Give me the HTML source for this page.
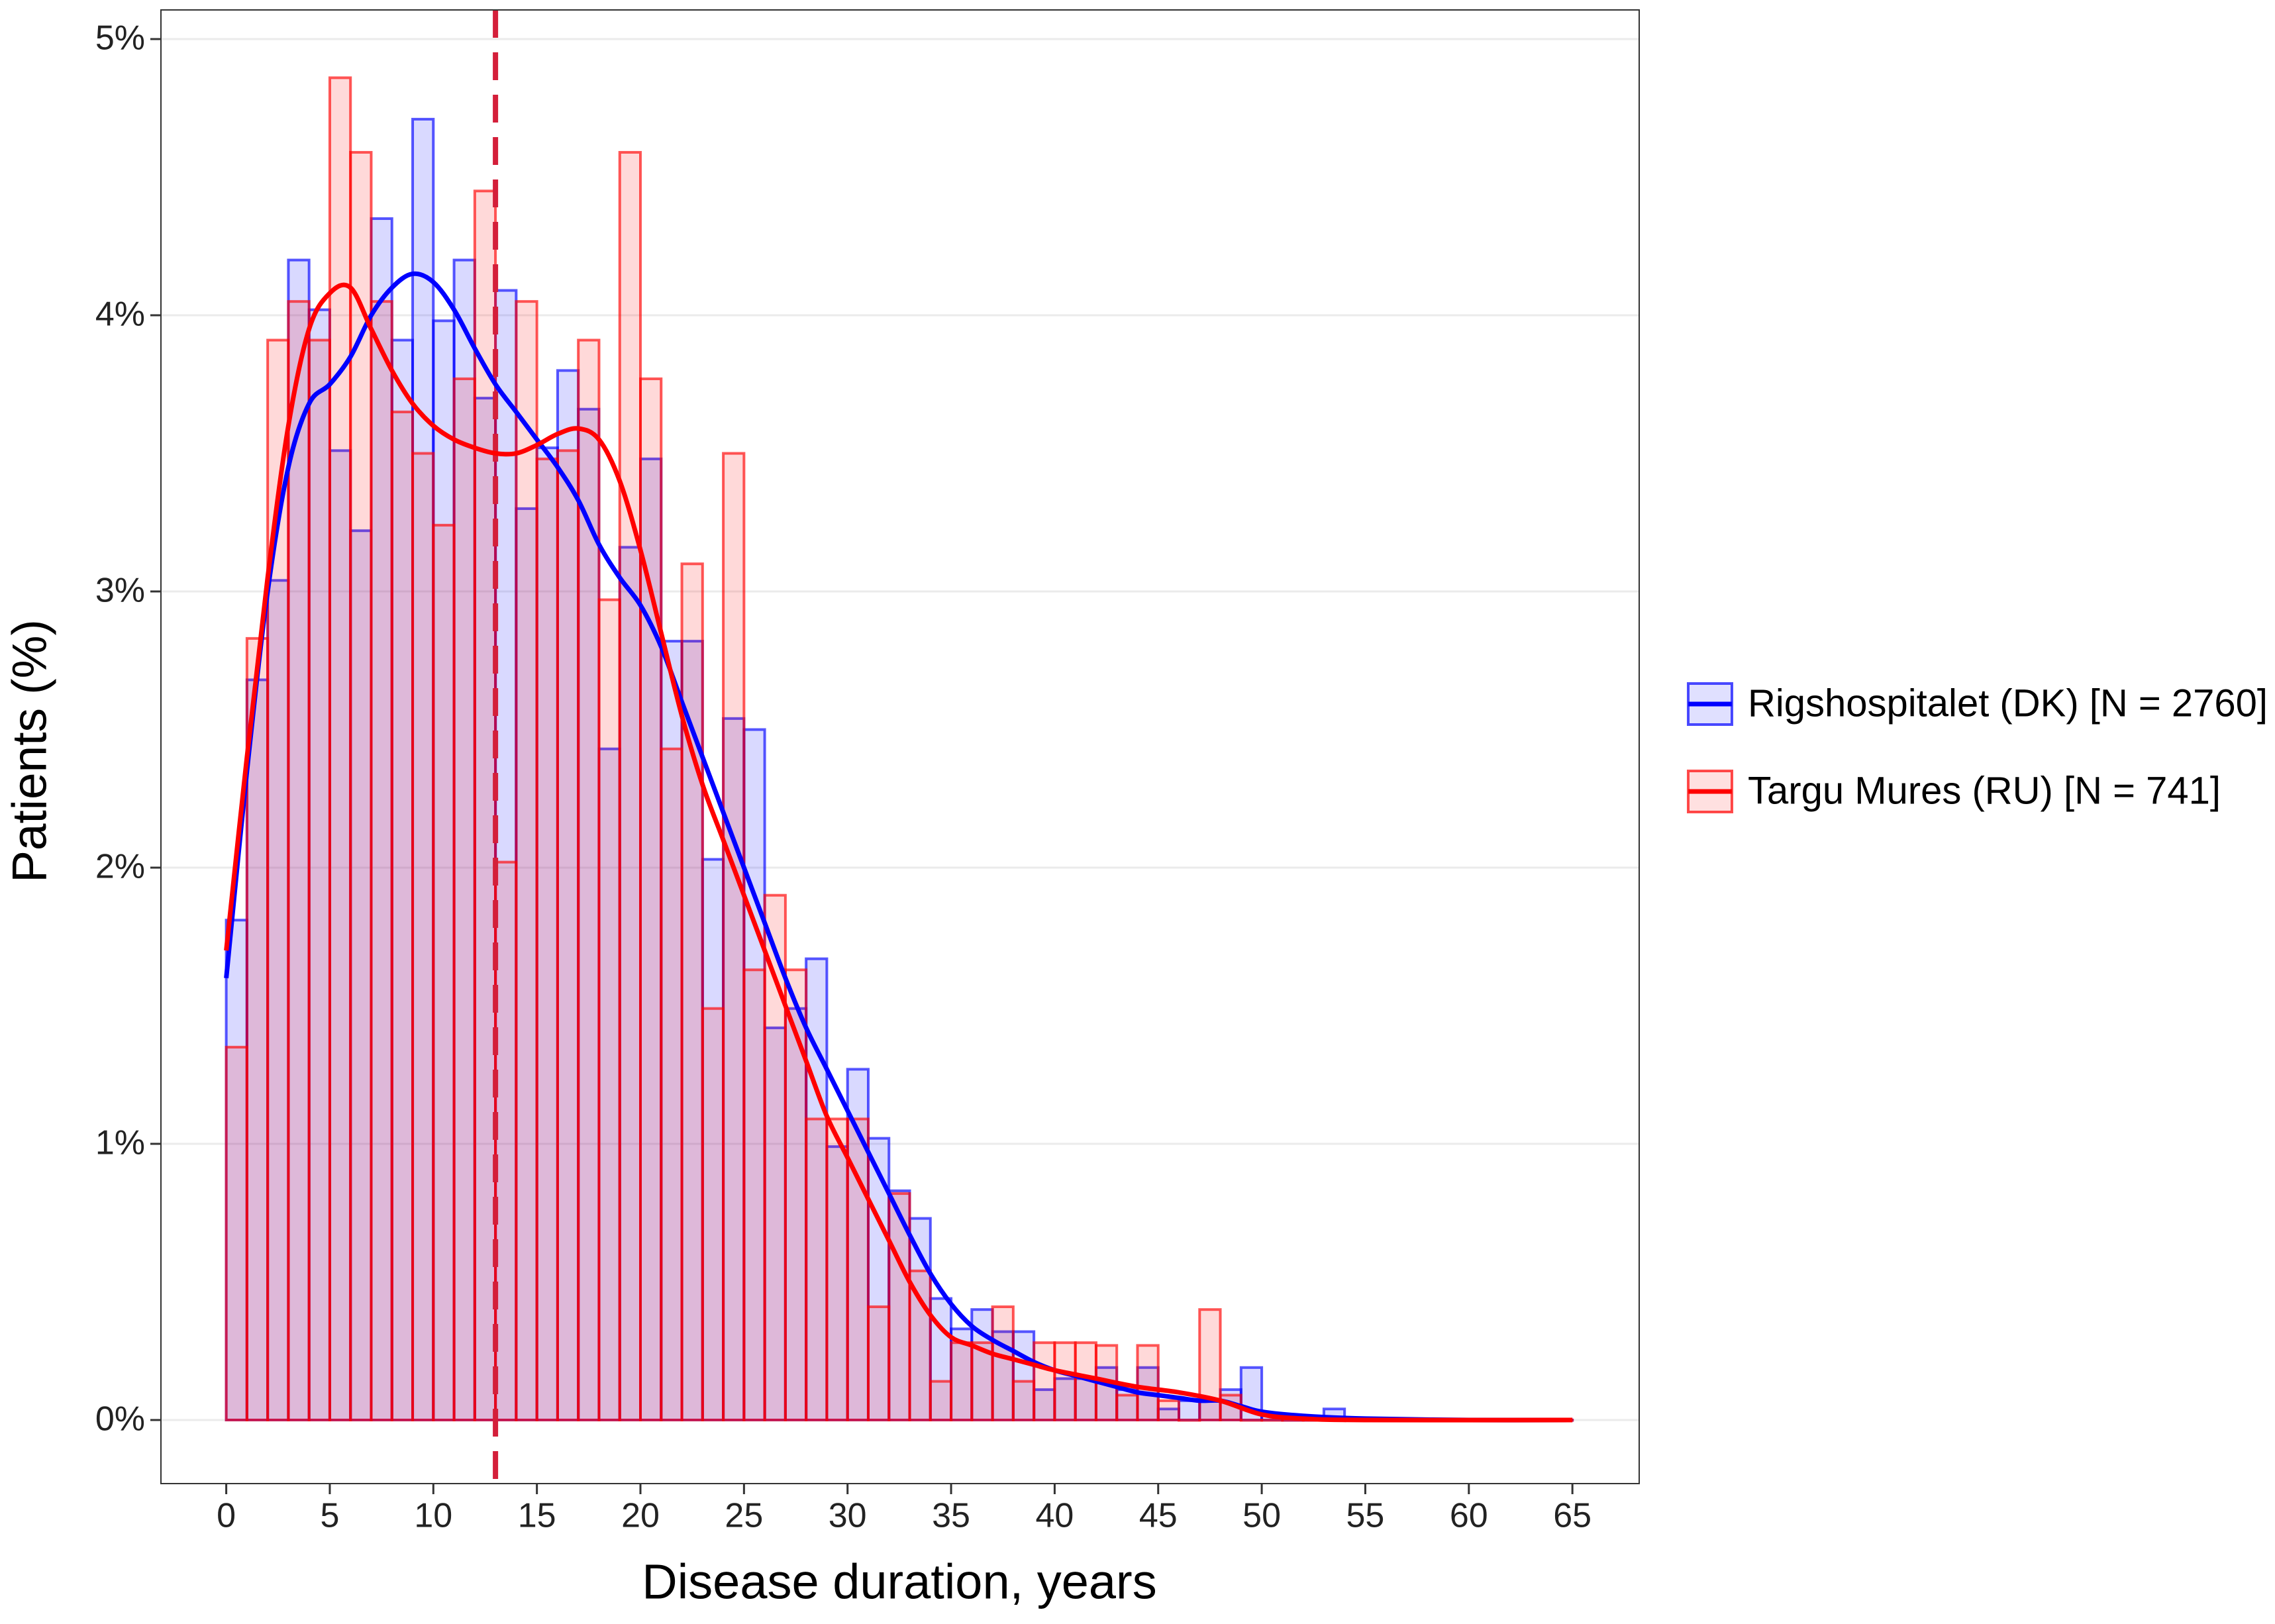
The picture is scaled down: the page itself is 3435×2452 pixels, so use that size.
<!DOCTYPE html>
<html><head><meta charset="utf-8"><style>
html,body{margin:0;padding:0;background:#fff;}
svg{display:block;font-family:"Liberation Sans",Arial,sans-serif;}
</style></head><body>
<svg id="chart" width="3435" height="2452" viewBox="0 0 3435 2452" xmlns="http://www.w3.org/2000/svg">
<rect x="0" y="0" width="3435" height="2452" fill="#fff"/>
<g id="grid"></g>
<g id="barsBlue"></g>
<g id="barsRed"></g>
<g id="curves"></g>
<rect x="243" y="15" width="2232" height="2225" fill="none" stroke="#333" stroke-width="2"/>
<g id="axes"></g>
<text x="50" y="1134" font-size="73" text-anchor="middle" dominant-baseline="middle" transform="rotate(-90 50 1134)" fill="#000">Patients (%)</text>
<text x="1358" y="2394" font-size="74" text-anchor="middle" dominant-baseline="middle" fill="#000">Disease duration, years</text>
<g>
  <g>
    <rect x="2549" y="1032" width="66" height="62" fill="rgba(0,0,255,0.12)" stroke="rgba(0,0,255,0.7)" stroke-width="4"/>
    <line x1="2549" y1="1063" x2="2615" y2="1063" stroke="#0000ff" stroke-width="7"/>
    <text x="2639" y="1066" font-size="58" dominant-baseline="middle" fill="#000">Rigshospitalet (DK) [N = 2760]</text>
  </g>
  <g>
    <rect x="2549" y="1164" width="66" height="62" fill="rgba(255,0,0,0.12)" stroke="rgba(255,0,0,0.7)" stroke-width="4"/>
    <line x1="2549" y1="1195" x2="2615" y2="1195" stroke="#ff0000" stroke-width="7"/>
    <text x="2639" y="1198" font-size="58" dominant-baseline="middle" fill="#000">Targu Mures (RU) [N = 741]</text>
  </g>
</g>
</svg>
<script>
const blueBins = [1.81,2.68,3.04,4.20,4.02,3.51,3.22,4.35,3.91,4.71,3.98,4.20,3.70,4.09,3.30,3.52,3.80,3.66,2.43,3.16,3.48,2.82,2.82,2.03,2.54,2.50,1.42,1.49,1.67,0.99,1.27,1.02,0.83,0.73,0.44,0.33,0.40,0.32,0.32,0.11,0.15,0.15,0.19,0.11,0.19,0.04,0.07,0.07,0.11,0.19,0.02,0,0,0.04,0,0,0,0,0,0,0,0,0,0,0];
const redBins = [1.35,2.83,3.91,4.05,3.91,4.86,4.59,4.05,3.65,3.50,3.24,3.77,4.45,2.02,4.05,3.48,3.51,3.91,2.97,4.59,3.77,2.43,3.10,1.49,3.50,1.63,1.90,1.63,1.09,1.09,1.09,0.41,0.82,0.54,0.14,0.28,0.28,0.41,0.14,0.28,0.28,0.28,0.27,0.09,0.27,0.07,0,0.40,0.09,0,0,0,0,0,0,0,0,0,0,0,0,0,0,0,0];
const blueCurveX = [0,1,2,3,4,5,6,7,8,9,10,11,12,13,14,15,16,17,18,19,20,21,22,23,24,25,26,27,28,29,30,31,32,33,34,35,36,37,38,39,40,41,42,43,44,45,46,47,48,49,50,52,55,60,65];
const blueCurveY = [1.6,2.35,3.0,3.45,3.68,3.75,3.85,4.0,4.1,4.15,4.12,4.02,3.88,3.75,3.65,3.55,3.45,3.33,3.17,3.05,2.95,2.8,2.6,2.4,2.2,2.0,1.8,1.6,1.42,1.27,1.12,0.97,0.82,0.67,0.53,0.42,0.34,0.29,0.25,0.21,0.18,0.16,0.14,0.12,0.1,0.09,0.08,0.07,0.07,0.05,0.03,0.015,0.005,0,0];
const redCurveX = [0,1,2,3,4,5,6,7,8,9,10,11,12,13,14,15,16,17,18,19,20,21,22,23,24,25,26,27,28,29,30,31,32,33,34,35,36,37,38,39,40,42,44,46,48,50,52,55,65];
const redCurveY = [1.7,2.4,3.05,3.6,3.95,4.08,4.1,3.95,3.8,3.68,3.6,3.55,3.52,3.5,3.5,3.53,3.57,3.59,3.55,3.4,3.15,2.85,2.55,2.3,2.1,1.9,1.7,1.5,1.3,1.1,0.95,0.8,0.65,0.5,0.38,0.3,0.27,0.24,0.22,0.2,0.18,0.15,0.12,0.1,0.07,0.02,0.005,0,0];
const xTicks = [0,5,10,15,20,25,30,35,40,45,50,55,60,65];
const yTicks = [0,1,2,3,4,5];
const medianLine = 13;

const NS = "http://www.w3.org/2000/svg";
const X0 = 341.6, XS = 31.27, Y0 = 2144, YS = 417;
function sx(v){ return X0 + v*XS; }
function sy(v){ return Y0 - v*YS; }
function mk(tag, attrs, parent){
  const e = document.createElementNS(NS, tag);
  for (const k in attrs) e.setAttribute(k, attrs[k]);
  parent.appendChild(e);
  return e;
}
const grid = document.getElementById('grid');
yTicks.forEach(t => {
  const l = mk('line', {x1:243, x2:2475, y1:sy(t), y2:sy(t), stroke:'#ebebeb', 'stroke-width':3}, grid);
  
  
});
function drawBars(vals, g, fill, stroke, name){
  vals.forEach((v, i) => {
    const r = mk('rect', {x:sx(i), y:sy(v), width:XS, height:Math.max(sy(0)-sy(v),0.5), fill:fill, stroke:stroke, 'stroke-width':4}, g);
    
    
  });
}
drawBars(blueBins, document.getElementById('barsBlue'), 'rgba(0,0,255,0.15)', 'rgba(0,0,255,0.65)', 'bar-rigshospitalet');
drawBars(redBins, document.getElementById('barsRed'), 'rgba(255,0,0,0.15)', 'rgba(255,0,0,0.65)', 'bar-targu-mures');

function smoothPath(xs, ys){
  const p = xs.map((x,i)=>[sx(x), sy(ys[i])]);
  let d = `M${p[0][0]},${p[0][1]}`;
  for (let i=0;i<p.length-1;i++){
    const p0 = p[Math.max(i-1,0)], p1=p[i], p2=p[i+1], p3=p[Math.min(i+2,p.length-1)];
    const c1 = [p1[0]+(p2[0]-p0[0])/6, p1[1]+(p2[1]-p0[1])/6];
    const c2 = [p2[0]-(p3[0]-p1[0])/6, p2[1]-(p3[1]-p1[1])/6];
    d += ` C${c1[0]},${c1[1]} ${c2[0]},${c2[1]} ${p2[0]},${p2[1]}`;
  }
  return d;
}
const curves = document.getElementById('curves');
const vl = mk('line', {x1:sx(medianLine), x2:sx(medianLine), y1:15, y2:2240, stroke:'#d41f3a', 'stroke-width':8, 'stroke-dasharray':'42 22'}, curves);


const bc = mk('path', {d:smoothPath(blueCurveX, blueCurveY), fill:'none', stroke:'#0000ff', 'stroke-width':7}, curves);


const rc = mk('path', {d:smoothPath(redCurveX, redCurveY), fill:'none', stroke:'#ff0000', 'stroke-width':7}, curves);



const axes = document.getElementById('axes');
xTicks.forEach(t => {
  const l = mk('line', {x1:sx(t), x2:sx(t), y1:2240, y2:2256, stroke:'#333', 'stroke-width':3}, axes);
  
  
  const tx = mk('text', {x:sx(t), y:2292, 'font-size':52, 'text-anchor':'middle', 'dominant-baseline':'middle', fill:'#222'}, axes);
  tx.textContent = t;
  
  
});
yTicks.forEach(t => {
  const l = mk('line', {x1:227, x2:243, y1:sy(t), y2:sy(t), stroke:'#333', 'stroke-width':3}, axes);
  
  
  const tx = mk('text', {x:219, y:sy(t)+2, 'font-size':52, 'text-anchor':'end', 'dominant-baseline':'middle', fill:'#222'}, axes);
  tx.textContent = t + '%';
  
  
});
</script>
</body></html>
